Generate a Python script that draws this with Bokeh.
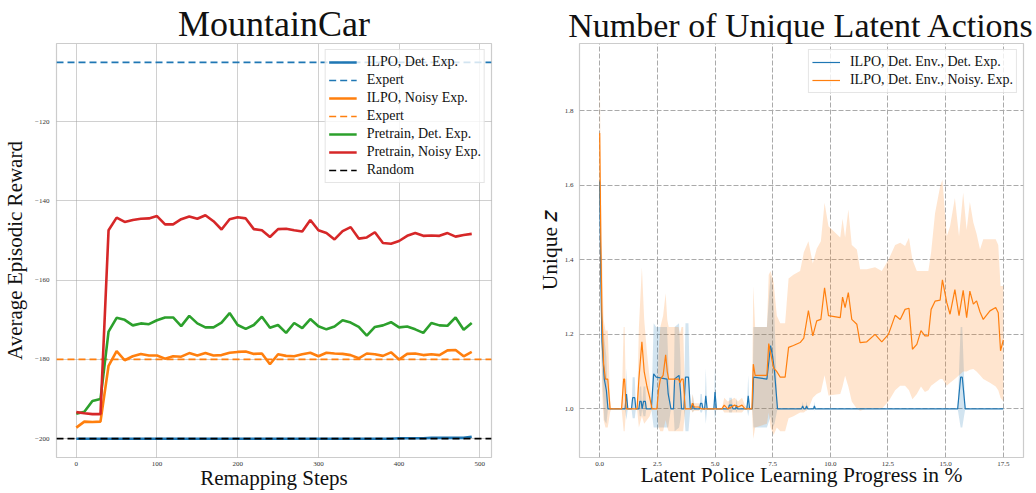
from bokeh.plotting import figure
from bokeh.layouts import row
from bokeh.models import Range1d, FixedTicker, Legend, LegendItem
from bokeh.embed import file_html
from bokeh.resources import INLINE

SERIF = "Liberation Serif"
BLUE, ORANGE, GREEN, RED = "#1f77b4", "#ff7f0e", "#2ca02c", "#d62728"

# ---------------- MountainCar: reward during remapping ----------------
steps = [0, 10, 20, 30, 40, 50, 60, 70, 80, 90,
         100, 110, 120, 130, 140, 150, 160, 170, 180, 190,
         200, 210, 220, 230, 240, 250, 260, 270, 280, 290,
         300, 310, 320, 330, 340, 350, 360, 370, 380, 390,
         400, 410, 420, 430, 440, 450, 460, 470, 480, 490]
ilpo_det = [-200.0, -200.0, -200.0, -200.0, -200.0, -200.0, -200.0, -200.0, -200.0, -200.0,
            -200.0, -200.0, -200.0, -200.0, -200.0, -200.0, -200.0, -200.0, -200.0, -200.0,
            -200.0, -200.0, -200.0, -200.0, -200.0, -200.0, -200.0, -200.0, -200.0, -200.0,
            -200.0, -200.0, -200.0, -200.0, -200.0, -200.0, -200.0, -200.0, -200.0, -200.0,
            -199.9, -199.9, -199.9, -199.9, -199.8, -199.8, -199.8, -199.8, -199.8, -199.5]
ilpo_noisy = [-197.2, -195.7, -195.8, -195.7, -181.6, -177.9, -180.2, -179.2, -178.6, -179.0,
              -179.0, -179.8, -179.2, -179.3, -178.4, -179.0, -178.4, -179.0, -178.9, -178.3,
              -178.1, -178.0, -178.6, -178.5, -181.2, -178.7, -179.1, -179.2, -178.7, -178.3,
              -179.2, -178.3, -178.5, -178.6, -178.9, -179.7, -178.5, -178.7, -179.1, -178.2,
              -180.0, -178.6, -178.5, -178.9, -178.7, -178.9, -177.7, -177.6, -179.2, -178.1]
pretrain_det = [-193.7, -193.2, -190.5, -190.0, -173.0, -169.5, -170.0, -171.4, -170.9, -171.1,
                -170.1, -169.4, -169.4, -171.6, -169.0, -170.9, -171.9, -171.9, -170.7, -168.3,
                -171.3, -172.3, -171.3, -169.2, -172.0, -171.3, -173.3, -170.8, -172.1, -169.8,
                -171.6, -172.4, -171.7, -170.1, -170.7, -171.8, -174.0, -171.8, -171.4, -170.6,
                -171.9, -171.7, -172.4, -173.3, -170.8, -171.4, -171.5, -169.4, -172.5, -170.8]
pretrain_noisy = [-193.3, -193.6, -193.8, -193.8, -147.4, -144.2, -145.3, -144.8, -144.5, -144.4,
                  -143.8, -145.9, -145.9, -144.6, -143.9, -144.5, -143.6, -145.1, -147.2, -144.6,
                  -144.1, -144.4, -147.1, -147.4, -149.1, -147.1, -147.0, -147.4, -147.7, -144.8,
                  -147.4, -148.1, -149.7, -147.6, -146.6, -149.5, -149.2, -147.9, -150.6, -150.8,
                  -150.1, -148.8, -148.1, -148.8, -148.7, -148.8, -148.1, -149.0, -148.6, -148.3]
expert_det = -105.0
expert_noisy = -180.0
random_reward = -200.0
step_ticks = [0, 100, 200, 300, 400, 500]
reward_ticks = [-200, -180, -160, -140, -120]

# ---------------- Unique latent actions during policy learning ----------------
prog_o = [0.00, 0.05, 0.10, 0.17, 0.25, 0.35, 0.45, 0.50, 0.95, 1.04,
          1.08, 1.15, 1.62, 1.70, 1.83, 1.93, 2.05, 2.17, 2.27, 2.48,
          2.55, 2.63, 2.75, 2.86, 2.93, 2.99, 3.42, 3.48, 3.55, 3.62,
          3.71, 3.95, 4.02, 4.10, 4.30, 4.40, 5.30, 5.40, 5.55, 5.85,
          6.00, 6.17, 6.30, 6.60, 6.66, 6.74, 7.25, 7.33, 7.41, 7.54,
          7.68, 7.83, 8.04, 8.19, 8.40, 8.69, 8.85, 9.05, 9.24, 9.41,
          9.59, 9.75, 9.92, 10.43, 10.53, 10.64, 10.78, 10.93, 11.15, 11.29,
          11.58, 11.94, 12.23, 12.52, 12.81, 13.03, 13.24, 13.41, 13.56, 13.75,
          13.93, 14.10, 14.25, 14.37, 14.54, 14.76, 14.86, 15.05, 15.19, 15.40,
          15.58, 15.76, 15.91, 16.05, 16.20, 16.34, 16.49, 16.63, 16.92, 17.17,
          17.28, 17.38, 17.50]
mean_o = [1.74, 1.45, 1.25, 1.12, 1.08, 1.08, 1.00, 1.00, 1.00, 1.08,
          1.08, 1.00, 1.00, 1.08, 1.18, 1.10, 1.06, 1.03, 1.00, 1.00,
          1.05, 1.08, 1.09, 1.145, 1.10, 1.08, 1.08, 1.07, 1.08, 1.08,
          1.00, 1.00, 1.015, 1.005, 1.005, 1.00, 1.00, 1.01, 1.00, 1.01,
          1.005, 1.01, 1.00, 1.00, 1.12, 1.09, 1.09, 1.175, 1.15, 1.11,
          1.10, 1.085, 1.085, 1.165, 1.17, 1.178, 1.19, 1.264, 1.196, 1.236,
          1.24, 1.325, 1.25, 1.245, 1.30, 1.272, 1.312, 1.24, 1.227, 1.178,
          1.18, 1.20, 1.18, 1.20, 1.251, 1.24, 1.267, 1.27, 1.16, 1.173,
          1.21, 1.196, 1.196, 1.267, 1.289, 1.292, 1.346, 1.285, 1.254, 1.32,
          1.25, 1.318, 1.245, 1.316, 1.281, 1.29, 1.26, 1.24, 1.263, 1.272,
          1.258, 1.156, 1.185]
lo_o = [1.55, 1.25, 1.05, 0.97, 0.95, 0.95, 0.99, 1.00, 1.00, 0.94,
        0.94, 1.00, 1.00, 0.95, 0.98, 0.96, 0.97, 0.98, 1.00, 1.00,
        0.95, 0.94, 0.94, 0.97, 0.95, 0.94, 0.94, 0.94, 0.94, 0.94,
        1.00, 1.00, 0.99, 0.995, 0.995, 1.00, 1.00, 0.99, 0.99, 0.99,
        0.99, 0.99, 1.00, 1.00, 0.92, 0.95, 0.96, 0.99, 0.95, 0.93,
        0.95, 0.94, 0.94, 0.975, 0.98, 0.99, 0.99, 1.00, 1.03, 1.04,
        1.045, 1.09, 1.036, 1.04, 1.06, 1.089, 1.06, 1.02, 1.00, 0.995,
        1.00, 1.00, 1.00, 1.02, 1.05, 1.062, 1.062, 1.05, 1.026, 1.04,
        1.06, 1.045, 1.05, 1.062, 1.07, 1.08, 1.08, 1.062, 1.07, 1.08,
        1.09, 1.10, 1.10, 1.105, 1.107, 1.10, 1.09, 1.08, 1.07, 1.06,
        1.05, 1.03, 1.02]
hi_o = [1.93, 1.62, 1.42, 1.24, 1.21, 1.21, 1.03, 1.00, 1.00, 1.22,
        1.22, 1.00, 1.00, 1.22, 1.38, 1.24, 1.15, 1.08, 1.00, 1.00,
        1.15, 1.22, 1.25, 1.31, 1.24, 1.22, 1.22, 1.20, 1.22, 1.22,
        1.00, 1.00, 1.04, 1.015, 1.015, 1.00, 1.00, 1.03, 1.02, 1.03,
        1.02, 1.03, 1.01, 1.00, 1.33, 1.22, 1.22, 1.36, 1.37, 1.34,
        1.25, 1.23, 1.23, 1.35, 1.36, 1.37, 1.42, 1.45, 1.39, 1.43,
        1.45, 1.553, 1.49, 1.46, 1.51, 1.46, 1.535, 1.44, 1.428, 1.375,
        1.375, 1.38, 1.37, 1.40, 1.44, 1.446, 1.437, 1.459, 1.40, 1.37,
        1.37, 1.37, 1.37, 1.42, 1.525, 1.597, 1.615, 1.463, 1.49, 1.566,
        1.463, 1.58, 1.48, 1.555, 1.50, 1.47, 1.428, 1.455, 1.455, 1.455,
        1.44, 1.33, 1.33]

prog_b = [0.00, 0.05, 0.10, 0.20, 0.29, 0.36, 1.10, 1.16, 1.22, 1.38,
          1.43, 1.52, 1.57, 1.70, 1.74, 1.80, 1.84, 1.90, 1.98, 2.02,
          2.24, 2.34, 2.45, 2.92, 2.97, 3.09, 3.20, 3.25, 3.44, 3.50,
          3.55, 3.65, 3.72, 3.85, 3.93, 4.00, 4.04, 4.10, 4.33, 4.37,
          4.43, 4.48, 4.55, 4.60, 4.66, 4.95, 5.00, 5.06, 5.58, 5.62,
          5.73, 5.78, 5.89, 5.93, 5.98, 6.38, 6.44, 6.50, 6.62, 6.67,
          7.25, 7.41, 7.50, 7.58, 7.71, 8.75, 8.80, 8.85, 8.92, 8.97,
          9.02, 9.27, 9.31, 9.35, 15.52, 15.65, 15.72, 15.85, 17.50]
mean_b = [1.61, 1.35, 1.18, 1.08, 1.05, 1.00, 1.00, 1.04, 1.00, 1.00,
          1.03, 1.03, 1.00, 1.00, 1.02, 1.02, 1.00, 1.02, 1.02, 1.00,
          1.00, 1.094, 1.085, 1.08, 1.04, 1.00, 1.00, 1.08, 1.09, 1.05,
          1.00, 1.00, 1.085, 1.085, 1.00, 1.00, 1.015, 1.00, 1.00, 1.015,
          1.015, 1.00, 1.00, 1.035, 1.00, 1.00, 1.045, 1.00, 1.00, 1.01,
          1.01, 1.00, 1.00, 1.01, 1.00, 1.00, 1.035, 1.00, 1.00, 1.085,
          1.08, 1.17, 1.14, 1.10, 1.00, 1.00, 1.008, 1.00, 1.00, 1.008,
          1.00, 1.00, 1.008, 1.00, 1.00, 1.085, 1.085, 1.00, 1.00]
lo_b = [1.55, 1.28, 1.10, 0.97, 0.96, 1.00, 1.00, 0.97, 1.00, 1.00,
        0.975, 0.975, 1.00, 1.00, 0.98, 0.98, 1.00, 0.98, 0.98, 1.00,
        1.00, 0.95, 0.95, 0.95, 0.95, 1.00, 1.00, 0.94, 0.95, 0.97,
        1.00, 1.00, 0.94, 0.94, 1.00, 1.00, 0.99, 1.00, 1.00, 0.99,
        0.99, 1.00, 1.00, 0.96, 1.00, 1.00, 0.97, 1.00, 1.00, 0.99,
        0.99, 1.00, 1.00, 0.99, 1.00, 1.00, 0.98, 1.00, 1.00, 0.95,
        0.95, 0.98, 0.95, 0.96, 1.00, 1.00, 0.995, 1.00, 1.00, 0.995,
        1.00, 1.00, 0.995, 1.00, 1.00, 0.95, 0.95, 1.00, 1.00]
hi_b = [1.67, 1.42, 1.26, 1.19, 1.14, 1.00, 1.00, 1.11, 1.00, 1.00,
        1.085, 1.085, 1.00, 1.00, 1.06, 1.06, 1.00, 1.06, 1.06, 1.00,
        1.00, 1.23, 1.22, 1.22, 1.13, 1.00, 1.00, 1.22, 1.23, 1.13,
        1.00, 1.00, 1.23, 1.23, 1.00, 1.00, 1.04, 1.00, 1.00, 1.04,
        1.04, 1.00, 1.00, 1.11, 1.00, 1.00, 1.12, 1.00, 1.00, 1.03,
        1.03, 1.00, 1.00, 1.03, 1.00, 1.00, 1.09, 1.00, 1.00, 1.22,
        1.22, 1.36, 1.33, 1.24, 1.00, 1.00, 1.02, 1.00, 1.00, 1.02,
        1.00, 1.00, 1.02, 1.00, 1.00, 1.22, 1.22, 1.00, 1.00]
progress_ticks = [0.0, 2.5, 5.0, 7.5, 10.0, 12.5, 15.0, 17.5]
unique_ticks = [1.0, 1.2, 1.4, 1.6, 1.8]


def padded(lo, hi, frac=0.05):
    pad = (hi - lo) * frac
    return lo - pad, hi + pad


def style_axes(p, label_size="21px", title_size="36px"):
    for ax in (p.xaxis[0], p.yaxis[0]):
        ax.axis_line_color = None
        ax.major_tick_line_color = None
        ax.minor_tick_line_color = None
        ax.major_tick_out = 0
        ax.major_tick_in = 0
        ax.minor_tick_out = 0
        ax.minor_tick_in = 0
        ax.major_label_text_font = SERIF
        ax.major_label_text_font_size = "7px"
        ax.major_label_text_color = "#333333"
        ax.axis_label_text_font = SERIF
        ax.axis_label_text_font_size = label_size
        ax.axis_label_text_font_style = "normal"
        ax.axis_label_text_color = "#111111"
    p.outline_line_color = "#cccccc"
    p.outline_line_width = 1.2
    p.title.align = "center"
    p.title.text_font = SERIF
    p.title.text_font_size = title_size
    p.title.text_font_style = "normal"
    p.title.text_color = "#111111"
    p.title.text_line_height = 1.0
    p.title.standoff = 0


def style_legend(leg):
    leg.label_text_font = SERIF
    leg.label_text_font_size = "14px"
    leg.label_text_color = "#111111"
    leg.glyph_width = 28
    leg.glyph_height = 18
    leg.label_height = 18
    leg.label_standoff = 10
    leg.spacing = 0
    leg.padding = 3
    leg.margin = 6
    leg.border_line_color = "#cccccc"
    leg.border_line_width = 1
    leg.background_fill_alpha = 0.8
    leg.location = "top_right"


# ---------------- left panel ----------------
x_lo, x_hi = padded(min(steps), max(steps))
all_rewards = ilpo_det + ilpo_noisy + pretrain_det + pretrain_noisy + [expert_det, expert_noisy, random_reward]
y_lo, y_hi = padded(min(all_rewards), max(all_rewards))

p1 = figure(width=520, height=493, title="MountainCar",
            x_range=Range1d(x_lo, x_hi), y_range=Range1d(y_lo, y_hi),
            output_backend="svg", toolbar_location=None,
            min_border_left=56, min_border_right=29, min_border_top=41, min_border_bottom=36)
style_axes(p1)
p1.xaxis.axis_label = "Remapping Steps"
p1.yaxis.axis_label = "Average Episodic Reward"
p1.xaxis.ticker = FixedTicker(ticks=step_ticks)
p1.yaxis.ticker = FixedTicker(ticks=reward_ticks)
p1.yaxis.major_label_overrides = {t: str(t).replace("-", "\u2212") for t in reward_ticks}
p1.xaxis.major_label_standoff = 4
p1.xaxis.axis_label_standoff = -3
p1.yaxis.major_label_standoff = 7
p1.yaxis.axis_label_standoff = 5
for g in (p1.xgrid[0], p1.ygrid[0]):
    g.grid_line_color = "#a0a0a0"
    g.grid_line_dash = "1 1"
    g.grid_line_width = 1

span_x = [x_lo, x_hi]
r_ilpo_det = p1.line(steps, ilpo_det, color=BLUE, line_width=2.6)
r_exp_det = p1.line(span_x, [expert_det, expert_det], color=BLUE, line_width=1.7, line_dash="7 4")
r_ilpo_noisy = p1.line(steps, ilpo_noisy, color=ORANGE, line_width=2.6)
r_exp_noisy = p1.line(span_x, [expert_noisy, expert_noisy], color=ORANGE, line_width=1.7, line_dash="7 4")
r_pre_det = p1.line(steps, pretrain_det, color=GREEN, line_width=2.6)
r_pre_noisy = p1.line(steps, pretrain_noisy, color=RED, line_width=2.6)
r_random = p1.line(span_x, [random_reward, random_reward], color="black", line_width=1.7, line_dash="7 4")

leg1 = Legend(items=[
    LegendItem(label="ILPO, Det. Exp.", renderers=[r_ilpo_det]),
    LegendItem(label="Expert", renderers=[r_exp_det]),
    LegendItem(label="ILPO, Noisy Exp.", renderers=[r_ilpo_noisy]),
    LegendItem(label="Expert", renderers=[r_exp_noisy]),
    LegendItem(label="Pretrain, Det. Exp.", renderers=[r_pre_det]),
    LegendItem(label="Pretrain, Noisy Exp.", renderers=[r_pre_noisy]),
    LegendItem(label="Random", renderers=[r_random]),
])
style_legend(leg1)
p1.add_layout(leg1)

# ---------------- right panel ----------------
px_lo, px_hi = padded(min(prog_o + prog_b), max(prog_o + prog_b))
all_unique = lo_o + hi_o + lo_b + hi_b
py_lo, py_hi = padded(min(all_unique), max(all_unique))

p2 = figure(width=516, height=493, title="Number of Unique Latent Actions",
            x_range=Range1d(px_lo, px_hi), y_range=Range1d(py_lo, py_hi),
            output_backend="svg", toolbar_location=None,
            min_border_left=59, min_border_right=13, min_border_top=43, min_border_bottom=34)
style_axes(p2, label_size="21.5px", title_size="34px")
p2.xaxis.axis_label = "Latent Police Learning Progress in %"
p2.yaxis.axis_label = "Unique \U0001D467"
p2.xaxis.ticker = FixedTicker(ticks=progress_ticks)
p2.yaxis.ticker = FixedTicker(ticks=unique_ticks)
p2.xaxis.major_label_overrides = {t: f"{t:.1f}" for t in progress_ticks}
p2.yaxis.major_label_overrides = {t: f"{t:.1f}" for t in unique_ticks}
p2.xaxis.major_label_standoff = 4
p2.xaxis.axis_label_standoff = -6
p2.yaxis.major_label_standoff = 6
p2.yaxis.axis_label_standoff = 0
for g in (p2.xgrid[0], p2.ygrid[0]):
    g.grid_line_color = "#aaaaaa"
    g.grid_line_dash = "5 2"
    g.grid_line_width = 1

p2.varea(x=prog_b, y1=lo_b, y2=hi_b, fill_color=BLUE, fill_alpha=0.2)
p2.varea(x=prog_o, y1=lo_o, y2=hi_o, fill_color=ORANGE, fill_alpha=0.2)
r_blue = p2.line(prog_b, mean_b, color=BLUE, line_width=1.2)
r_orange = p2.line(prog_o, mean_o, color=ORANGE, line_width=1.2)

leg2 = Legend(items=[
    LegendItem(label="ILPO, Det. Env., Det. Exp.", renderers=[r_blue]),
    LegendItem(label="ILPO, Det. Env., Noisy. Exp.", renderers=[r_orange]),
])
style_legend(leg2)
p2.add_layout(leg2)

layout = row(p1, p2)
open("out.html", "w").write(file_html(layout, INLINE))
